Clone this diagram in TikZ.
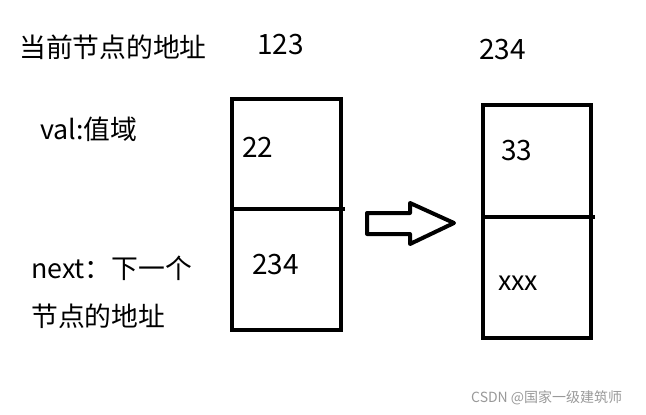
\documentclass[tikz,border=0pt]{standalone}
\usepackage{fontspec}
\setmainfont{Noto Sans CJK SC}
\begin{document}
\begin{tikzpicture}[x=1pt,y=-1pt,
  lbl/.style={anchor=west,inner sep=0pt,font=\fontsize{26.8}{30}\selectfont},
  digits/.style={lbl,font=\fontsize{28}{32}\selectfont},
  wm/.style={anchor=west,inner sep=0pt,text=black!40,font=\fontsize{14}{16}\selectfont},
  thick box/.style={draw=black,line width=4pt,line join=miter},
  blockarrow/.style={draw=black,line width=4pt,line join=round,fill=white}]
\useasboundingbox (0,0) rectangle (646,415);
% left box
\draw[thick box] (232,99) rectangle (341,330);
\draw[thick box] (232,209) -- (345,209);
% right box
\draw[thick box] (483,105) rectangle (591,338);
\draw[thick box] (483,217) -- (595,217);
% block arrow
\draw[blockarrow] (367,213) -- (410,213) -- (410,203) -- (454,223) -- (410,244) -- (410,234) -- (367,234) -- cycle;
% labels
\node[lbl] (cur) at (19,47) {当前节点的地址};
\node[digits] (a1) at (257,45) {123};
\node[digits] (a2) at (479,50) {234};
\node[lbl] (val) at (40,129) {val:值域};
\node[digits] (v1) at (242,147) {22};
\node[digits] (n1) at (252,265) {234};
\node[lbl] (nx) at (31,268) {next：下一个};
\node[lbl] (nx2) at (31,316) {节点的地址};
\node[digits] (v2) at (501,151) {33};
\node[lbl] (n2) at (498,283) {xxx};
\node[wm] (w) at (471,398) {CSDN @国家一级建筑师};
\end{tikzpicture}
\end{document}
